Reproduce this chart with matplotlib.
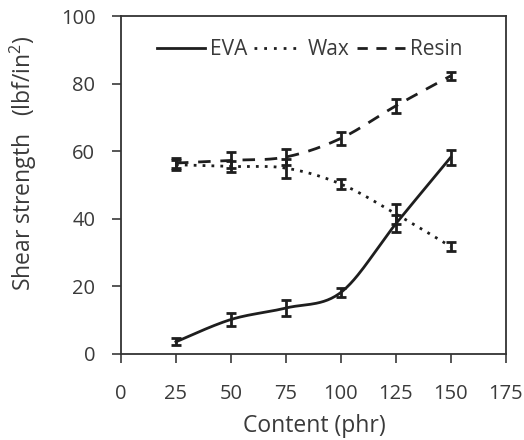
import numpy as np
import matplotlib
matplotlib.use("Agg")
import matplotlib.pyplot as plt
from matplotlib.lines import Line2D

content = [25, 50, 75, 100, 125, 150]
eva = [3.6, 10.2, 13.6, 18.2, 38.5, 58.2]
eva_err = [1.0, 1.8, 2.3, 1.3, 2.5, 2.2]
wax = [56.0, 55.5, 55.0, 50.3, 41.5, 31.8]
wax_err = [1.5, 1.6, 2.8, 1.6, 3.0, 1.3]
resin = [56.5, 57.3, 58.3, 63.8, 73.4, 82.3]
resin_err = [1.6, 2.4, 2.4, 2.0, 2.0, 1.1]

x_ticks = [0, 25, 50, 75, 100, 125, 150, 175]
y_ticks = [0, 20, 40, 60, 80, 100]

plt.rcParams['font.family'] = ['Open Sans', 'DejaVu Sans']
plt.rcParams['mathtext.fontset'] = 'custom'
plt.rcParams['mathtext.rm'] = 'Open Sans'


def smooth(xs, ys, n=30):
    """Catmull-Rom style smoothing of the line through the points (display only)."""
    xs = np.asarray(xs, float)
    ys = np.asarray(ys, float)
    px = np.concatenate([[xs[0]], xs, [xs[-1]]])
    py = np.concatenate([[ys[0]], ys, [ys[-1]]])
    outx, outy = [], []
    for i in range(1, len(px) - 2):
        p0 = np.array([px[i - 1], py[i - 1]])
        p1 = np.array([px[i], py[i]])
        p2 = np.array([px[i + 1], py[i + 1]])
        p3 = np.array([px[i + 2], py[i + 2]])
        c1 = p1 + (p2 - p0) / 6.0
        c2 = p2 - (p3 - p1) / 6.0
        t = np.linspace(0, 1, n)[:, None]
        b = ((1 - t) ** 3) * p1 + 3 * ((1 - t) ** 2) * t * c1 + 3 * (1 - t) * t ** 2 * c2 + t ** 3 * p2
        outx.extend(b[:, 0])
        outy.extend(b[:, 1])
    return outx, outy


fig = plt.figure(figsize=(5.24, 4.4), dpi=100)
ax = fig.add_axes([0.2309, 0.1955, 0.7341, 0.768])

col = '#1e1e1e'
txt = '#3a3a3a'
dot = (0, (1, 2.2))
dash = (0, (4.5, 3.5))
styles = [(eva, eva_err, '-'), (wax, wax_err, dot), (resin, resin_err, dash)]
for vals, err, ls in styles:
    sx, sy = smooth(content, vals)
    ax.plot(sx, sy, color=col, lw=2.0, linestyle=ls)
    ax.errorbar(content, vals, yerr=err, fmt='none', ecolor=col, elinewidth=2.0, capsize=3.5, capthick=2.0)

handles = [Line2D([], [], color=col, lw=2.0, linestyle='-'),
           Line2D([], [], color=col, lw=2.0, linestyle=(0, (1, 2.5))),
           Line2D([], [], color=col, lw=2.0, linestyle=(0, (3.7, 3.1)))]
ax.legend(handles, ['EVA', 'Wax', 'Resin'], loc='upper center', ncol=3, frameon=False,
          fontsize=15, handlelength=2.3, handletextpad=0.25, columnspacing=0.35,
          bbox_to_anchor=(0.49, 0.975), labelcolor=txt, borderaxespad=0.3)

ax.set_xlim(0, 175)
ax.set_ylim(0, 100)
ax.set_xticks(x_ticks)
ax.set_yticks(y_ticks)
ax.tick_params(axis='both', direction='out', length=6.5, width=1.2, labelsize=14.5, colors=txt)
ax.tick_params(axis='x', pad=15)
ax.tick_params(axis='y', pad=12)
for s in ax.spines.values():
    s.set_linewidth(1.3)
    s.set_color('#333333')
ax.set_xlabel('Content (phr)', fontsize=16.5, color=txt, va='center')
ax.xaxis.set_label_coords(0.504, -0.214)
ax.set_ylabel('Shear strength   (lbf/in$^2$)', fontsize=16.5, color=txt, va='center')
ax.yaxis.set_label_coords(-0.255, 0.565)

fig.savefig('out.png', dpi=100)
